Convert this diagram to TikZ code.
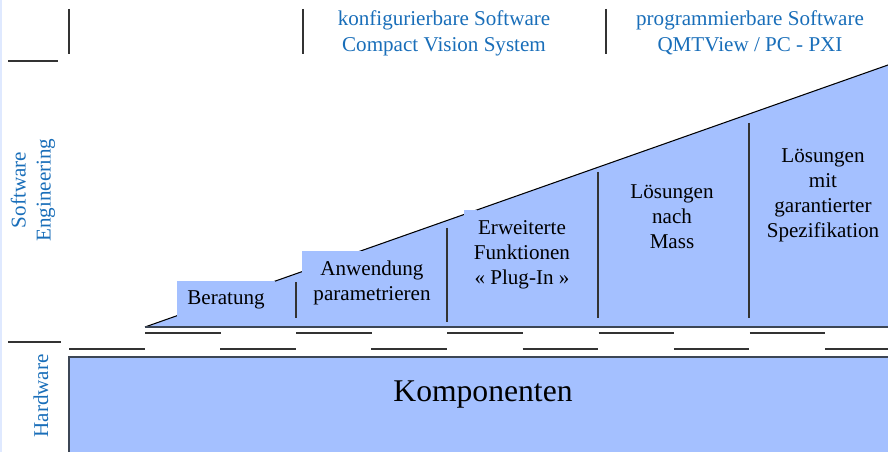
\documentclass[tikz,border=0pt]{standalone}
\usepackage{fontspec}
\setmainfont{Liberation Serif}
\usetikzlibrary{positioning}

\definecolor{stepblue}{RGB}{164,192,255}
\definecolor{labelblue}{RGB}{25,110,185}
\definecolor{edgegray}{RGB}{60,70,85}

\tikzset{
  stufe/.style={align=center, font=\fontsize{12}{14.2}\selectfont},
  kopftext/.style={text=labelblue, align=center, font=\fontsize{12}{14.8}\selectfont},
  seitentext/.style={text=labelblue, align=center, rotate=90, font=\fontsize{12}{14.2}\selectfont},
  trenner/.style={draw=black!80, line width=0.6pt},
}

\begin{document}
\begin{tikzpicture}[x=0.02cm, y=-0.02cm]
        \useasboundingbox (0,0) rectangle (888,452);
        % slide edge
        \fill[stepblue!35] (0,0) rectangle (2,452);

        % Header
        \draw[trenner] (8,61) -- (58,61);
        \draw[trenner] (69,9) -- (69,54);
        \draw[trenner] (303,9) -- (303,54);
        \draw[trenner] (606,9) -- (606,54);
        \node[kopftext] (konfig) at (444,33) {konfigurierbare Software\\Compact Vision System};
        \node[kopftext] (prog) at (750,33) {programmierbare Software\\QMTView / PC - PXI};

        % Side labels
        \node[seitentext] (swlabel) at (33,190) {Software\\Engineering};
        \draw[trenner] (8,342) -- (61,342);
        \node[seitentext] (hwlabel) at (41,396) {Hardware};

        % Komponenten
        \fill[stepblue] (69,357) rectangle (888,452);
        \draw[edgegray, line width=1.1pt] (69,452) -- (69,357) -- (888,357);
        \node[font=\fontsize{18}{21}\selectfont] (komponenten) at (483,395) {Komponenten};

        % Staircase
        \coordinate (fuss) at (145,327);
        \coordinate (spitze) at (888,65);
        \fill[stepblue] (fuss) -- (spitze) -- (888,327) -- cycle;
        \draw[black, line width=0.6pt] (fuss) -- (spitze);
        \fill[stepblue] (177,281) rectangle (275,327);
        \fill[stepblue] (302,251) rectangle (362,327);
        \fill[stepblue] (464,210) rectangle (477,327);
        \draw[edgegray, line width=1.1pt] (fuss) -- (888,327);

        % Dividers
        \foreach \x/\oben/\unten in {296/282/318, 447/228/322, 598/172/318, 749/123/318}
          \draw[trenner] (\x,\oben) -- (\x,\unten);

        % Dashes
        \foreach \i in {0,...,4}
          \draw[trenner] (145+151.2*\i,333) -- ++(75.5,0);
        \foreach \i in {0,...,5}
          \draw[trenner] (69+151.2*\i,349) -- ++(75.5,0);

        % Steps
        \node[stufe] (beratung) at (226,300) {Beratung};
        \node[stufe] (anwendung) at (372,283) {Anwendung\\parametrieren};
        \node[stufe] (erweitert) at (522,255) {Erweiterte\\Funktionen\\« Plug-In »};
        \node[stufe] (loesungmass) at (672,217) {Lösungen\\nach\\Mass};
        \node[stufe] (loesungspez) at (823,195) {Lösungen\\mit\\garantierter\\Spezifikation};
    \end{tikzpicture}
\end{document}
